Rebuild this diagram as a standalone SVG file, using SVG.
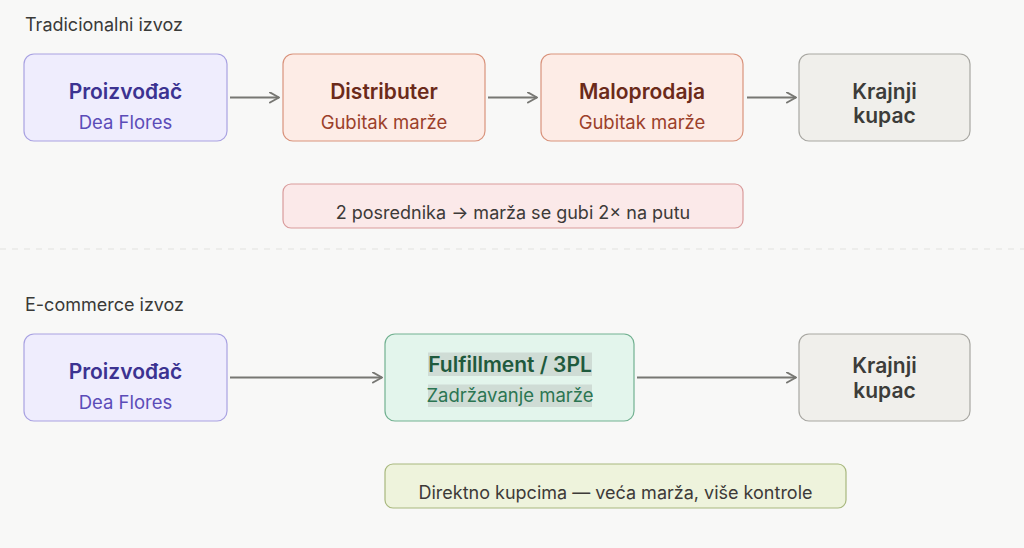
<svg xmlns="http://www.w3.org/2000/svg" width="1024" height="548" viewBox="0 0 1024 548">
<defs>
<marker id="arr" viewBox="0 0 12 12" refX="10" refY="6" markerWidth="12" markerHeight="12" markerUnits="userSpaceOnUse" orient="auto">
<path d="M1,1 L10,6 L1,11" fill="none" stroke="#777773" stroke-width="2" stroke-linecap="round" stroke-linejoin="round"/>
</marker>
<style>
text{font-family:Inter,"Noto Sans","Liberation Sans",sans-serif;}
.sec{font-size:18px;fill:#3a3a38;}
.t{font-size:21px;font-weight:600;text-anchor:middle;}
.s{font-size:18.5px;text-anchor:middle;}
.n{font-size:18px;text-anchor:middle;fill:#3d3a38;}
.prod rect{fill:#efedfd;stroke:#a9a2e2;stroke-width:1.2;}
.prod .t{fill:#3c3391;}
.prod .s{fill:#5b4cb8;}
.mid rect{fill:#fdece6;stroke:#d9937c;stroke-width:1.2;}
.mid .t{fill:#6b2a1a;}
.mid .s{fill:#9b402a;}
.cust rect{fill:#f0efeb;stroke:#a8a7a2;stroke-width:1.2;}
.cust .t{fill:#3c3c39;}
.conn line{stroke:#777773;stroke-width:2;marker-end:url(#arr);}
</style>
</defs>
<rect x="0" y="0" width="1024" height="548" fill="#f8f8f7"/>
<text class="sec" x="25" y="31">Tradicionalni izvoz</text>
<text class="sec" x="25" y="311">E-commerce izvoz</text>
<line x1="0" y1="249" x2="1024" y2="249" stroke="#e2e2df" stroke-width="1.2" stroke-dasharray="6,6"/>

<g id="t-proizvodjac" class="prod">
<rect x="24" y="54" width="203" height="87" rx="10"/>
<text class="t" x="125.5" y="99">Proizvođač</text>
<text class="s" x="125.5" y="129">Dea Flores</text>
</g>
<g id="t-distributer" class="mid">
<rect x="283" y="54" width="202" height="87" rx="10"/>
<text class="t" x="384" y="99">Distributer</text>
<text class="s" x="384" y="129">Gubitak marže</text>
</g>
<g id="t-maloprodaja" class="mid">
<rect x="541" y="54" width="202" height="87" rx="10"/>
<text class="t" x="642" y="99">Maloprodaja</text>
<text class="s" x="642" y="129">Gubitak marže</text>
</g>
<g id="t-kupac" class="cust">
<rect x="799" y="54" width="171" height="87" rx="10"/>
<text class="t" x="884.5" y="99">Krajnji</text>
<text class="t" x="884.5" y="123">kupac</text>
</g>
<g id="t-note">
<rect x="283" y="184" width="460" height="44" rx="8" fill="#fbe9e9" stroke="#d99c9c" stroke-width="1.2"/>
<text class="n" x="513" y="219">2 posrednika → marža se gubi 2× na putu</text>
</g>

<g id="e-proizvodjac" class="prod">
<rect x="24" y="334" width="203" height="87" rx="10"/>
<text class="t" x="125.5" y="379">Proizvođač</text>
<text class="s" x="125.5" y="409">Dea Flores</text>
</g>
<g id="e-fulfillment">
<rect x="385" y="334" width="249" height="87" rx="10" fill="#e3f5ec" stroke="#72b191" stroke-width="1.2"/>
<rect x="428" y="352.5" width="164" height="23.5" fill="#cfdcd5"/>
<rect x="428" y="384.5" width="164" height="22.5" fill="#cfdcd5"/>
<text class="t" x="510" y="372" fill="#1f5a3d">Fulfillment / 3PL</text>
<text class="s" x="510" y="402" fill="#2b7552">Zadržavanje marže</text>
</g>
<g id="e-kupac" class="cust">
<rect x="799" y="334" width="171" height="87" rx="10"/>
<text class="t" x="884.5" y="373">Krajnji</text>
<text class="t" x="884.5" y="398">kupac</text>
</g>
<g id="e-note">
<rect x="385" y="464" width="461" height="44" rx="8" fill="#eef3dc" stroke="#a8b87e" stroke-width="1.2"/>
<text class="n" x="615.5" y="499" fill="#3b3f35">Direktno kupcima — veća marža, više kontrole</text>
</g>

<g id="connectors" class="conn">
<line x1="230" y1="97.5" x2="279" y2="97.5"/>
<line x1="488" y1="97.5" x2="537" y2="97.5"/>
<line x1="747" y1="97.5" x2="796" y2="97.5"/>
<line x1="230" y1="377.5" x2="382" y2="377.5"/>
<line x1="637" y1="377.5" x2="796" y2="377.5"/>
</g>
</svg>
